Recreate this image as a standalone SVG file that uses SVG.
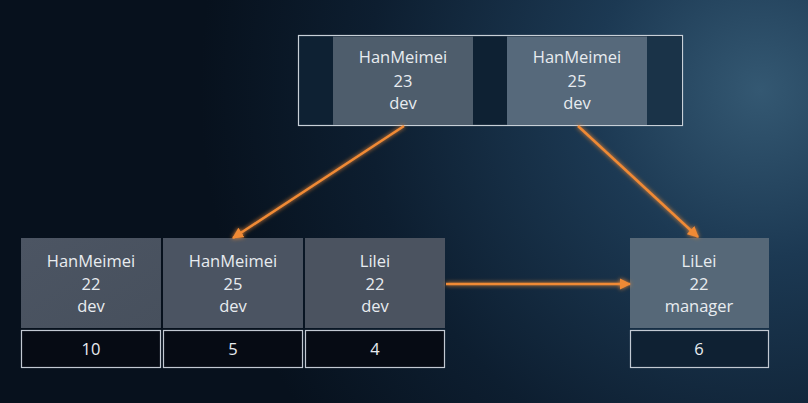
<svg xmlns="http://www.w3.org/2000/svg" width="808" height="403" viewBox="0 0 808 403">
<defs>
<radialGradient id="bg" cx="760" cy="90" r="560" gradientUnits="userSpaceOnUse">
<stop offset="0" stop-color="#345872"/>
<stop offset="0.3" stop-color="#1c3953"/>
<stop offset="0.7" stop-color="#0d1e30"/>
<stop offset="1" stop-color="#07111d"/>
</radialGradient>
<linearGradient id="cellL" x1="0" y1="0" x2="1" y2="1">
<stop offset="0" stop-color="#4c5563"/>
<stop offset="1" stop-color="#47505d"/>
</linearGradient>
<filter id="glow" x="-20%" y="-20%" width="140%" height="140%">
<feGaussianBlur stdDeviation="2" result="b"/>
<feMerge><feMergeNode in="b"/><feMergeNode in="SourceGraphic"/></feMerge>
</filter>
<marker id="ah" viewBox="0 0 10 10" refX="9" refY="5" markerWidth="4.5" markerHeight="4.5" orient="auto">
<path d="M0,0 L10,5 L0,10 z" fill="#f08a35"/>
</marker>
<style>
.t{font-family:"Open Sans","Noto Sans","Liberation Sans",sans-serif;font-size:16.5px;fill:#e8ecf0;text-anchor:middle}
.num{fill:#060b14;stroke:#c2c9d2;stroke-width:1.2}
.arr{stroke:#f08a35;stroke-width:2.5;fill:none;marker-end:url(#ah)}
</style>
</defs>
<rect width="808" height="403" fill="url(#bg)"/>

<g id="root">
<rect x="298.5" y="35.5" width="384" height="90" fill="#0e2133" stroke="#c8d0d8" stroke-width="1.2"/>
<rect x="333" y="36.5" width="140" height="88.5" fill="#4e5d6c"/>
<rect x="507" y="36.5" width="140" height="88.5" fill="#56697b"/>
<rect x="647" y="36.5" width="35" height="88.5" fill="#1a3348"/>
<text class="t" x="403" y="63">HanMeimei</text>
<text class="t" x="403" y="87">23</text>
<text class="t" x="403" y="109">dev</text>
<text class="t" x="577" y="63">HanMeimei</text>
<text class="t" x="577" y="87">25</text>
<text class="t" x="577" y="109">dev</text>
</g>

<g id="leaf1">
<rect x="21" y="238" width="140" height="90" fill="url(#cellL)"/>
<rect x="163" y="238" width="140" height="90" fill="#4b5462"/>
<rect x="305" y="238" width="140" height="90" fill="#4b5360"/>
<text class="t" x="91" y="267">HanMeimei</text>
<text class="t" x="91" y="290">22</text>
<text class="t" x="91" y="312">dev</text>
<text class="t" x="233" y="267">HanMeimei</text>
<text class="t" x="233" y="290">25</text>
<text class="t" x="233" y="312">dev</text>
<text class="t" x="375" y="267">Lilei</text>
<text class="t" x="375" y="290">22</text>
<text class="t" x="375" y="312">dev</text>
<rect class="num" x="21.5" y="330.5" width="139" height="37"/>
<rect class="num" x="163.5" y="330.5" width="139" height="37"/>
<rect class="num" x="305.5" y="330.5" width="139" height="37"/>
<text class="t" x="91" y="355">10</text>
<text class="t" x="233" y="355">5</text>
<text class="t" x="375" y="355">4</text>
</g>

<g id="leaf2">
<rect x="630" y="238" width="139" height="90" fill="#566878"/>
<text class="t" x="699" y="267">LiLei</text>
<text class="t" x="699" y="290">22</text>
<text class="t" x="699" y="312">manager</text>
<rect class="num" x="630.5" y="330.5" width="138" height="37" style="fill:#0f2133"/>
<text class="t" x="699" y="355">6</text>
</g>

<g id="connectors" filter="url(#glow)">
<line class="arr" x1="404" y1="126" x2="233" y2="238"/>
<line class="arr" x1="578" y1="126" x2="698" y2="237"/>
<line class="arr" x1="446" y1="284" x2="630" y2="284"/>
</g>
</svg>
